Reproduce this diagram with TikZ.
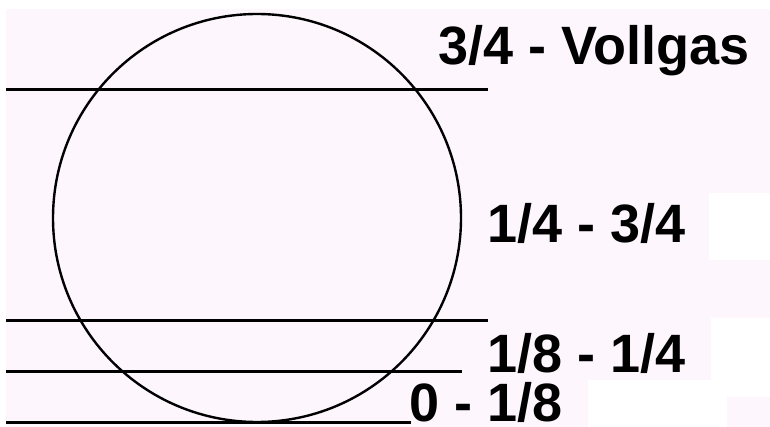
\documentclass[tikz,border=0pt]{standalone}
\usepackage{fontspec}
\setmainfont{Liberation Sans}
\definecolor{bgpink}{RGB}{253,246,253}
\tikzset{
  lbl/.style={anchor=base west, inner sep=0pt, font=\fontsize{54}{54}\selectfont\bfseries},
  hline/.style={line width=3pt, black},
}
\begin{document}
\begin{tikzpicture}[x=1pt,y=-1pt]
\useasboundingbox (0,0) rectangle (770,427);
% background
\fill[white] (0,0) rectangle (770,427);
\fill[bgpink] (6,9) rectangle (770,427);
\fill[white] (709,193) rectangle (770,260);
\fill[white] (711,318) rectangle (770,427);
\fill[white] (588,380) rectangle (727,427);
\fill[bgpink] (727,397) rectangle (770,427);
% circle
\draw[line width=2.4pt] (257,218) circle[radius=204];
% lines
\coordinate (a1) at (6,90);   \coordinate (a2) at (488,90);
\coordinate (b1) at (6,320);  \coordinate (b2) at (488,320);
\coordinate (c1) at (6,371);  \coordinate (c2) at (462,371);
\coordinate (d1) at (6,422);  \coordinate (d2) at (411,422);
\draw[hline] (a1) -- (a2);
\draw[hline] (b1) -- (b2);
\draw[hline] (c1) -- (c2);
\draw[hline] (d1) -- (d2);
% labels
\node[lbl] (t1) at (438,65) {3/4 - Vollgas};
\node[lbl] (t2) at (487,243) {1/4 - 3/4};
\node[lbl] (t3) at (487,372) {1/8 - 1/4};
\node[lbl] (t4) at (409,421) {0 - 1/8};
\end{tikzpicture}
\end{document}
